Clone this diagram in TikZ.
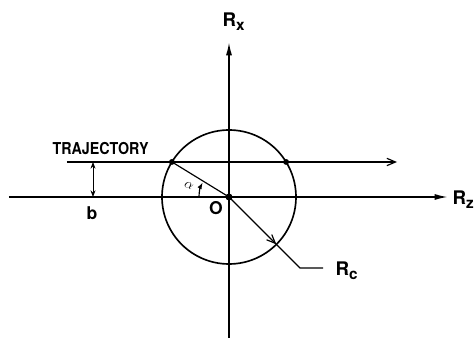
\documentclass[tikz,border=0pt]{standalone}
\usepackage{fontspec}
\setmainfont{TeX Gyre Heros}
\usetikzlibrary{arrows.meta}

\newcommand{\axislabel}[1]{\fontsize{16}{16}\selectfont\bfseries R\raisebox{-0.35ex}{\fontsize{13}{13}\selectfont #1}}

\tikzset{
    axisarrow/.style={line width=1.4pt, -{Latex[length=4mm,width=1.8mm]}},
    thin line/.style={line width=1pt},
    open tip/.style={-{Straight Barb[length=2.6mm,width=2.2mm]}},
    dot/.style={circle, fill, inner sep=0pt, minimum size=5pt}
}

\begin{document}
\begin{tikzpicture}[x=0.03cm,y=0.03cm,line width=1pt]
        \useasboundingbox (-229,-144) rectangle (247,197);

        % axes
        \coordinate (O) at (0,0);
        \coordinate (zstart) at (-220,0);
        \coordinate (zend) at (219,0);
        \coordinate (xstart) at (0,-141);
        \coordinate (xend) at (0,155);
        \draw[axisarrow] (zstart) -- (zend);
        \draw[axisarrow] (xstart) -- (xend);
        \node[anchor=base west, inner sep=0pt] (Rz) at (223,-8) {\axislabel{z}};
        \node[anchor=base west, inner sep=0pt] (Rx) at (-7,170) {\axislabel{x}};

        % capture circle and trajectory
        \draw[line width=1.4pt] (O) circle (67);
        \coordinate (P) at (148.45:67);
        \coordinate (Q) at (31.55:67);
        \coordinate (tstart) at (-162,35);
        \coordinate (tend) at (168,35);
        \draw[thin line, open tip] (tstart) -- (tend);
        \node[anchor=base west, inner sep=0pt] (traj) at (-177,42)
            {\scalebox{0.87}[1]{\fontsize{14}{14}\selectfont\bfseries TRAJECTORY}};
        \draw[thin line] (P) -- (O);
        \node[dot] (Pdot) at (P) {};
        \node[dot] (Qdot) at (Q) {};
        \node[dot, minimum size=6pt] (Odot) at (O) {};
        \node[anchor=base, inner sep=0pt] (Olab) at (-13,-18) {\fontsize{15}{15}\selectfont\bfseries O};

        % angle
        \draw[thin line, -{Latex[length=2mm,width=1.4mm]}] (180:30) arc (180:151:30);
        \node[inner sep=0pt, rotate=-25] (alpha) at (-40,11) {\fontsize{12}{12}\selectfont$\alpha$};

        % impact parameter
        \coordinate (b1) at (-136,0);
        \coordinate (b2) at (-136,35);
        \draw[line width=0.8pt, {Stealth[length=2mm,width=1.5mm]}-{Stealth[length=2mm,width=1.5mm]}] (b1) -- (b2);
        \node[anchor=base, inner sep=0pt] (blab) at (-137,-23) {\fontsize{15}{15}\selectfont\bfseries b};

        % capture radius
        \coordinate (C) at (-45:67);
        \coordinate (K) at (-45:100.4);
        \coordinate (Kend) at (94,-71);
        \draw[thin line, open tip] (O) -- (C);
        \draw[thin line] (C) -- (K) -- (Kend);
        \node[anchor=base west, inner sep=0pt] (Rc) at (106,-79) {\axislabel{c}};
    \end{tikzpicture}
\end{document}
